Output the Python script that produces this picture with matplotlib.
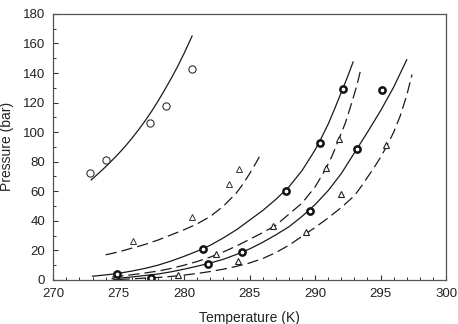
import matplotlib.pyplot as plt

plt.rcParams['font.family'] = ['Liberation Sans', 'DejaVu Sans']

# open circles (high pressure set) and the solid curve through them
t_open_circ = [272.8, 274.0, 277.4, 278.6, 280.6]
p_open_circ = [72.2, 81.2, 106.4, 117.7, 142.5]
t_curve1 = [272.9, 273.5, 274.0, 274.5, 275.0, 275.5, 276.0, 276.5, 277.0,
            277.5, 278.0, 278.5, 279.0, 279.5, 280.0, 280.6]
p_curve1 = [67.7, 72.5, 76.6, 81.0, 85.6, 90.5, 95.8, 101.5, 107.5,
            114.0, 121.0, 128.5, 136.3, 144.5, 153.5, 165.0]

# open triangles (upper) and dashed curve
t_tri_up = [276.1, 280.6, 283.4, 284.2]
p_tri_up = [26.4, 42.4, 64.7, 74.9]
t_dash1 = [274.0, 275.0, 276.0, 277.0, 278.0, 279.0, 280.0, 281.0, 282.0,
           283.0, 284.0, 284.5, 285.0, 285.5, 285.9]
p_dash1 = [17.0, 19.0, 21.5, 24.0, 27.0, 30.5, 34.0, 38.0, 43.0,
           50.0, 59.0, 65.0, 72.0, 79.5, 86.0]

# bold circles
t_bold_circ = [274.9, 277.5, 281.4, 281.8, 284.4, 287.8, 289.6, 290.4, 292.1, 293.2, 295.1]
p_bold_circ = [3.9, 1.4, 21.0, 11.0, 18.7, 60.4, 46.8, 92.9, 129.2, 88.6, 128.6]

# lower triangles
t_tri_low = [274.8, 279.5, 282.4, 284.1, 286.8, 289.3, 290.8, 291.8, 292.0, 295.4]
p_tri_low = [2.7, 3.4, 17.4, 13.0, 36.8, 32.3, 75.6, 95.2, 58.0, 91.3]

# model curves
t_solid_a = [273.0, 274.0, 275.0, 276.0, 277.0, 278.0, 279.0, 280.0, 281.0, 282.0,
             283.0, 284.0, 285.0, 286.0, 287.0, 288.0, 289.0, 290.0, 290.5, 291.0,
             291.5, 292.0, 292.5, 292.9]
p_solid_a = [2.5, 3.4, 4.5, 6.0, 7.8, 10.0, 12.8, 16.0, 19.5, 23.5,
             28.5, 34.0, 40.5, 47.0, 54.5, 63.0, 74.0, 88.0, 96.5, 105.5,
             116.0, 127.0, 138.0, 147.5]
t_dash_a = [274.5, 276.0, 277.0, 278.0, 279.0, 280.0, 281.0, 282.0, 283.0, 284.0,
            285.0, 286.0, 287.0, 288.0, 289.0, 290.0, 290.8, 291.3, 291.8, 292.3,
            292.8, 293.2, 293.5]
p_dash_a = [2.0, 3.5, 4.7, 6.0, 7.8, 10.0, 12.5, 15.5, 19.0, 23.0,
            27.5, 32.0, 37.0, 44.5, 52.0, 63.0, 75.0, 84.0, 95.0, 106.0,
            120.0, 132.0, 143.0]
t_solid_b = [274.5, 276.0, 277.0, 278.0, 279.0, 280.0, 281.0, 282.0, 283.0, 284.0,
             285.0, 286.0, 287.0, 288.0, 289.0, 290.0, 291.0, 292.0, 293.0, 294.0,
             295.0, 296.0, 297.0]
p_solid_b = [0.8, 2.0, 3.0, 4.0, 5.5, 7.3, 9.3, 11.5, 14.0, 17.3,
             21.0, 25.5, 30.5, 36.0, 43.0, 51.0, 60.5, 72.0, 86.0, 100.0,
             114.5, 130.5, 149.0]
t_dash_b = [275.0, 277.0, 278.6, 280.0, 281.0, 282.0, 283.0, 284.0, 285.0, 286.0,
            287.0, 288.0, 289.0, 290.0, 291.0, 292.0, 293.0, 293.5, 294.0, 294.5,
            295.0, 295.5, 296.0, 296.5, 297.0, 297.4]
p_dash_b = [0.3, 1.2, 2.0, 3.3, 4.4, 5.7, 7.3, 9.2, 11.5, 14.5,
            18.5, 23.5, 29.5, 35.5, 42.0, 49.0, 57.0, 63.0, 69.5, 76.0,
            83.0, 91.0, 100.0, 111.0, 125.0, 139.0]

fig = plt.figure(figsize=(4.58, 3.24), dpi=100)
ax = fig.add_axes([0.1164, 0.136, 0.8575, 0.821])

lc = '#1a1a1a'
dash = (0, (9, 4))
ax.plot(t_curve1, p_curve1, color=lc, lw=0.9)
ax.plot(t_dash1, p_dash1, color=lc, lw=0.9, linestyle=dash)
ax.plot(t_solid_a, p_solid_a, color=lc, lw=0.9)
ax.plot(t_dash_a, p_dash_a, color=lc, lw=0.9, linestyle=dash)
ax.plot(t_solid_b, p_solid_b, color=lc, lw=0.9)
ax.plot(t_dash_b, p_dash_b, color=lc, lw=0.9, linestyle=dash)

ax.plot(t_open_circ, p_open_circ, 'o', mfc='white', mec='#333333', mew=0.8, ms=5.2)
ax.plot(t_tri_up, p_tri_up, '^', mfc='white', mec='#333333', mew=0.7, ms=5)
ax.plot(t_tri_low, p_tri_low, '^', mfc='white', mec='#222222', mew=0.8, ms=4.5)
ax.plot(t_bold_circ, p_bold_circ, 'o', mfc='white', mec='#111111', mew=1.8, ms=4.5)

ax.set_xlim(270, 300)
ax.set_ylim(0, 180)
ax.set_xticks(range(270, 301, 5))
ax.set_yticks(range(0, 181, 20))
ax.set_xticks(range(270, 301, 1), minor=True)
ax.set_yticks(range(0, 181, 10), minor=True)
ax.tick_params(which='both', direction='in', colors='#333333', labelcolor='#222222')
ax.tick_params(which='major', length=3.5, width=0.8, labelsize=9.5, pad=6)
ax.tick_params(which='minor', length=2, width=0.7)
for s in ax.spines.values():
    s.set_color('#555555')
    s.set_linewidth(0.9)

ax.set_xlabel('Temperature (K)', fontsize=10, color='#222222', labelpad=8)
ax.set_ylabel('Pressure (bar)', fontsize=10, color='#222222', labelpad=6)

fig.savefig('out.png', dpi=100)
